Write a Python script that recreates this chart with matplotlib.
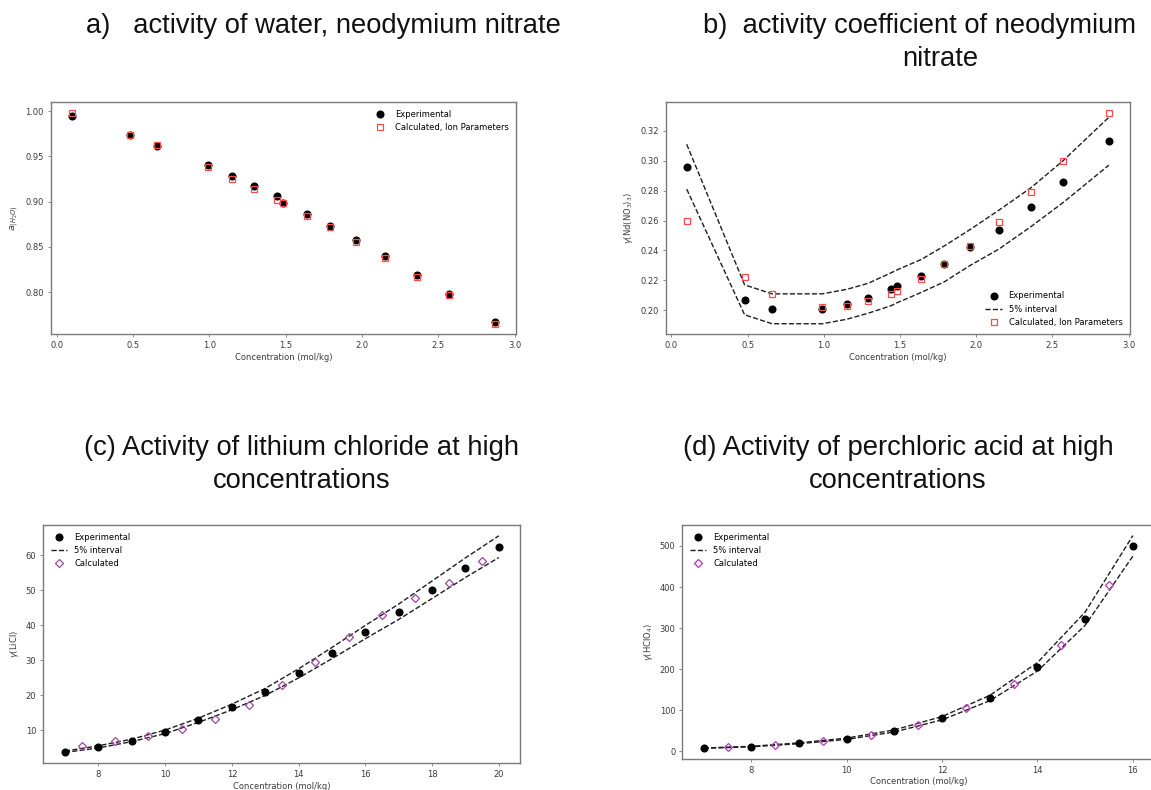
import matplotlib
matplotlib.use("Agg")
import matplotlib.pyplot as plt
from matplotlib.ticker import MultipleLocator, FormatStrFormatter

# ---------------- data ----------------
# (a) / (b) neodymium nitrate
conc_nd = [0.10, 0.48, 0.66, 0.99, 1.15, 1.29, 1.44, 1.48, 1.64, 1.79, 1.96, 2.15, 2.36, 2.57, 2.87]
aw_exp = [0.995, 0.974, 0.961, 0.940, 0.928, 0.917, 0.906, 0.898, 0.886, 0.873, 0.858, 0.840, 0.819, 0.798, 0.767]
aw_calc = [0.998, 0.974, 0.962, 0.938, 0.925, 0.914, 0.902, 0.898, 0.884, 0.872, 0.855, 0.838, 0.817, 0.797, 0.765]

gnd_exp = [0.296, 0.207, 0.201, 0.201, 0.204, 0.208, 0.214, 0.216, 0.223, 0.231, 0.242, 0.254, 0.269, 0.286, 0.313]
gnd_calc = [0.260, 0.222, 0.211, 0.202, 0.203, 0.206, 0.211, 0.213, 0.221, 0.231, 0.243, 0.259, 0.279, 0.300, 0.332]
gnd_upper = [0.311, 0.217, 0.211, 0.211, 0.214, 0.218, 0.225, 0.227, 0.234, 0.243, 0.254, 0.267, 0.282, 0.300, 0.329]
gnd_lower = [0.281, 0.197, 0.191, 0.191, 0.194, 0.198, 0.203, 0.205, 0.212, 0.219, 0.230, 0.241, 0.256, 0.272, 0.297]

# (c) lithium chloride
conc_licl = [7, 8, 9, 10, 11, 12, 13, 14, 15, 16, 17, 18, 19, 20]
licl_exp = [3.8, 5.2, 7.0, 9.5, 12.8, 16.6, 20.9, 26.2, 32.0, 38.0, 43.8, 50.1, 56.4, 62.4]
licl_upper = [4.0, 5.5, 7.4, 10.0, 13.4, 17.4, 21.9, 27.5, 33.6, 39.9, 46.0, 52.6, 59.2, 65.5]
licl_lower = [3.6, 4.9, 6.7, 9.0, 12.2, 15.8, 19.9, 24.9, 30.4, 36.1, 41.6, 47.6, 53.6, 59.3]
conc_licl_calc = [7.5, 8.5, 9.5, 10.5, 11.5, 12.5, 13.5, 14.5, 15.5, 16.5, 17.5, 18.5, 19.5]
licl_calc = [5.4, 6.8, 8.3, 10.3, 13.1, 17.2, 22.8, 29.5, 36.7, 42.9, 47.8, 51.9, 58.2]

# (d) perchloric acid
conc_hclo4 = [7, 8, 9, 10, 11, 12, 13, 14, 15, 16]
hclo4_exp = [8, 12, 20, 31, 50, 81, 130, 206, 323, 500]
hclo4_upper = [8.4, 12.6, 21.0, 32.6, 52.5, 85.1, 136.5, 216.3, 339.2, 525.0]
hclo4_lower = [7.6, 11.4, 19.0, 29.5, 47.5, 77.0, 123.5, 195.7, 306.9, 475.0]
conc_hclo4_calc = [7.5, 8.5, 9.5, 10.5, 11.5, 12.5, 13.5, 14.5, 15.5]
hclo4_calc = [10, 16, 25, 40, 65, 105, 165, 258, 404]

titles = {
    "a": ["a)   activity of water, neodymium nitrate"],
    "b": ["b)  activity coefficient of neodymium", "nitrate"],
    "c": ["(c) Activity of lithium chloride at high", "concentrations"],
    "d": ["(d) Activity of perchloric acid at high", "concentrations"],
}
xlabel = "Concentration (mol/kg)"

# ---------------- figure ----------------
W, H = 1151, 790
fig = plt.figure(figsize=(W / 100, H / 100), dpi=100)

def add_ax(left, right, top, bottom):
    return fig.add_axes([left / W, 1 - bottom / H, (right - left) / W, (bottom - top) / H])

SMALL = 6.0
TXT = "#3a3a3a"
SPINE = "#7a7a7a"

def style(ax):
    for s in ax.spines.values():
        s.set_color(SPINE)
        s.set_linewidth(1.0)
    ax.tick_params(length=2.5, width=0.6, pad=2.5, labelsize=SMALL,
                   colors=TXT, color=SPINE)
    ax.set_xlabel(xlabel, fontsize=SMALL, color=TXT, labelpad=1.8)

MS_DOT = 4.8
MS_SQ = 4.2
MS_DIA = 3.8
DASH_C = "#1e1e1e"
DASH_LW = 1.0

# (a)
axa = add_ax(50.7, 516.1, 102.3, 334.3)
axa.plot(conc_nd, aw_exp, "o", color="k", ms=MS_DOT, label="Experimental")
axa.plot(conc_nd, aw_calc, "s", mfc="none", mec="#ff4a4a", mew=0.9, ms=MS_SQ,
         label="Calculated, Ion Parameters")
axa.xaxis.set_major_locator(MultipleLocator(0.5))
axa.yaxis.set_major_locator(MultipleLocator(0.05))
axa.yaxis.set_major_formatter(FormatStrFormatter("%.2f"))
axa.xaxis.set_major_formatter(FormatStrFormatter("%.1f"))
style(axa)
axa.set_ylabel(r"$a_{(H_2O)}$", fontsize=6.8, color=TXT, labelpad=3.0)
axa.legend(loc="upper right", frameon=False, fontsize=SMALL, numpoints=1)

# (b)
axb = add_ax(665.6, 1129.9, 102.3, 334.3)
axb.plot(conc_nd, gnd_exp, "o", color="k", ms=MS_DOT, label="Experimental", zorder=3)
axb.plot(conc_nd, gnd_upper, "--", color=DASH_C, lw=DASH_LW, label="5% interval")
axb.plot(conc_nd, gnd_lower, "--", color=DASH_C, lw=DASH_LW)
axb.plot(conc_nd, gnd_calc, "s", mfc="none", mec="#ff4a4a", mew=0.9, ms=MS_SQ,
         label="Calculated, Ion Parameters", zorder=4)
axb.xaxis.set_major_locator(MultipleLocator(0.5))
axb.yaxis.set_major_locator(MultipleLocator(0.02))
axb.yaxis.set_major_formatter(FormatStrFormatter("%.2f"))
axb.xaxis.set_major_formatter(FormatStrFormatter("%.1f"))
style(axb)
axb.set_ylabel(r"$\gamma$(Nd(NO$_3$)$_3$)", fontsize=SMALL, color=TXT, labelpad=3.5)
axb.legend(loc="lower right", frameon=False, fontsize=SMALL, numpoints=1)

# (c)
axc = add_ax(43.3, 520.5, 525.0, 763.3)
axc.plot(conc_licl, licl_exp, "o", color="k", ms=MS_DOT, label="Experimental", zorder=3)
axc.plot(conc_licl, licl_upper, "--", color=DASH_C, lw=DASH_LW, label="5% interval")
axc.plot(conc_licl, licl_lower, "--", color=DASH_C, lw=DASH_LW)
axc.plot(conc_licl_calc, licl_calc, "D", mfc="none", mec="#9b4a9b", mew=0.9, ms=MS_DIA,
         label="Calculated", zorder=4)
axc.xaxis.set_major_locator(MultipleLocator(2))
axc.yaxis.set_major_locator(MultipleLocator(10))
style(axc)
axc.set_ylabel(r"$\gamma$(LiCl)", fontsize=SMALL, color=TXT, labelpad=3.5)
axc.legend(loc="upper left", frameon=False, fontsize=SMALL, numpoints=1)

# (d)
axd = add_ax(682.3, 1154.3, 525.0, 759.0)
axd.plot(conc_hclo4, hclo4_exp, "o", color="k", ms=MS_DOT, label="Experimental", zorder=3)
axd.plot(conc_hclo4, hclo4_upper, "--", color=DASH_C, lw=DASH_LW, label="5% interval")
axd.plot(conc_hclo4, hclo4_lower, "--", color=DASH_C, lw=DASH_LW)
axd.plot(conc_hclo4_calc, hclo4_calc, "D", mfc="none", mec="#b83ab8", mew=0.9, ms=MS_DIA,
         label="Calculated", zorder=4)
axd.xaxis.set_major_locator(MultipleLocator(2))
axd.yaxis.set_major_locator(MultipleLocator(100))
style(axd)
axd.set_ylabel(r"$\gamma$(HClO$_4$)", fontsize=SMALL, color=TXT, labelpad=3.5)
axd.legend(loc="upper left", frameon=False, fontsize=SMALL, numpoints=1)

# ---------------- titles ----------------
TFONT = dict(family=["Liberation Sans", "DejaVu Sans"], fontsize=19.7, color="#111111")

def ftext(x, y, s, ha):
    fig.text(x / W, 1 - y / H, s, ha=ha, va="baseline", **TFONT)

ftext(86, 33, titles["a"][0], "left")
ftext(703, 33, titles["b"][0], "left")
ftext(940, 66, titles["b"][1], "center")
ftext(302, 455, titles["c"][0], "center")
ftext(302, 488, titles["c"][1], "center")
ftext(898, 455, titles["d"][0], "center")
ftext(898, 488, titles["d"][1], "center")

fig.savefig("out.png", dpi=100)
